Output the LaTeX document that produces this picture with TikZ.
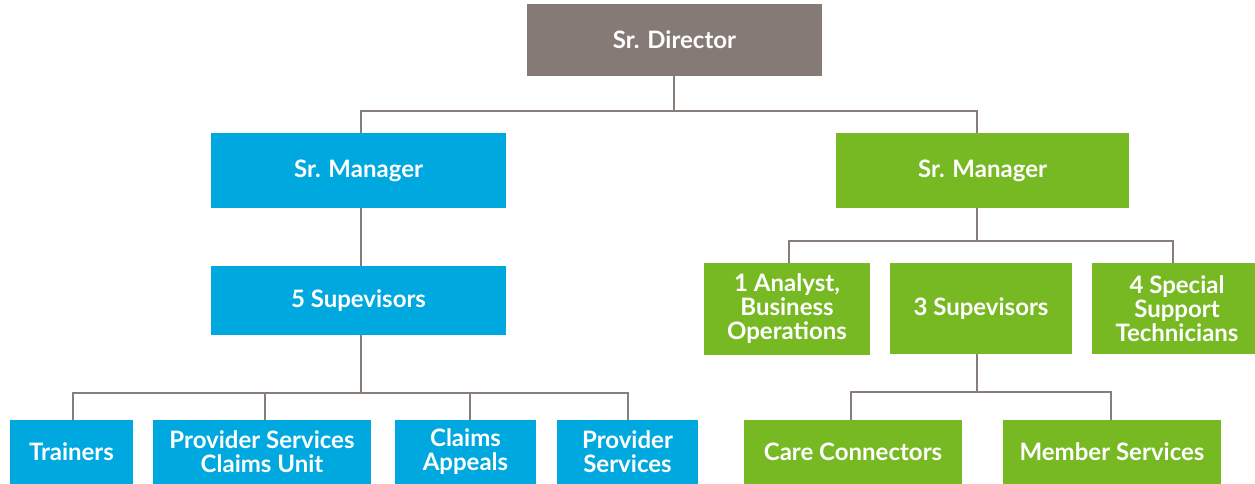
\documentclass[tikz,border=0pt]{standalone}
\usepackage{fontspec}
\setmainfont{Lato}
\begin{document}
\begin{tikzpicture}[x=1pt,y=-1pt,
  box/.style={rectangle, inner sep=0pt, text=white, align=center,
    font=\fontsize{24}{24}\selectfont\bfseries},
  chief/.style={box, fill=chiefgray},
  bluebox/.style={box, fill=orgblue},
  greenbox/.style={box, fill=orggreen},
  link/.style={draw=linkgray, line width=2.8pt}]
\definecolor{chiefgray}{HTML}{857A75}
\definecolor{orgblue}{HTML}{00A8E0}
\definecolor{orggreen}{HTML}{77B923}
\definecolor{linkgray}{HTML}{877D79}
\useasboundingbox (0,0) rectangle (1255,483);
\clip (0,0) rectangle (1255,483);

% junction points of the connector buses
\coordinate (jtop)  at (674,111);
\coordinate (jl)    at (361,111);
\coordinate (jr)    at (977,111);
\coordinate (jbl)   at (361,393);
\coordinate (jgr)   at (977,241);
\coordinate (jgb)   at (977,392);

% connectors (drawn first, boxes cover their ends)
\draw[link] (674,60) -- (jtop);
\draw[link] (361,150) |- (jtop) -| (977,150);
\draw[link] (361,150) -- (361,300) -- (jbl);
\draw[link] (73,440) |- (jbl) -| (628,440);
\draw[link] (265,440) -- (265,393);
\draw[link] (470,440) -- (470,393);
\draw[link] (977,150) -- (jgr);
\draw[link] (789,280) |- (jgr) -| (1173,280);
\draw[link] (977,300) -- (jgb);
\draw[link] (851,440) |- (jgb) -| (1111,440);

% top level
\node[chief, minimum width=295, minimum height=72] (dir) at (674.5,40) {Sr. Director};

% left branch
\node[bluebox, minimum width=295, minimum height=75] (bmgr) at (358.5,170.5) {Sr. Manager};
\node[bluebox, minimum width=295, minimum height=69] (bsup) at (358.5,300.5) {5 Supevisors};
\node[bluebox, minimum width=123, minimum height=64] (train) at (71.5,452) {Trainers};
\node[bluebox, minimum width=218, minimum height=64] (pscu) at (262,452) {Provider Services\\Claims Unit};
\node[bluebox, minimum width=141, minimum height=64] (appeal) at (465.5,452) {Claims\\Appeals};
\node[bluebox, minimum width=141, minimum height=64] (prov) at (627.5,452) {Provider\\Services};

% right branch
\node[greenbox, minimum width=293, minimum height=75] (gmgr) at (982.5,170.5) {Sr. Manager};
\node[greenbox, minimum width=166, minimum height=92] (analyst) at (787,309) {1 Analyst,\\Business\\Operations};
\node[greenbox, minimum width=182, minimum height=91] (gsup) at (981,308.5) {3 Supevisors};
\node[greenbox, minimum width=170, minimum height=91] (tech) at (1177,308.5) {4 Special\\Support\\Technicians};
\node[greenbox, minimum width=218, minimum height=64] (care) at (853,452) {Care Connectors};
\node[greenbox, minimum width=218, minimum height=64] (member) at (1112,452) {Member Services};
\end{tikzpicture}
\end{document}
